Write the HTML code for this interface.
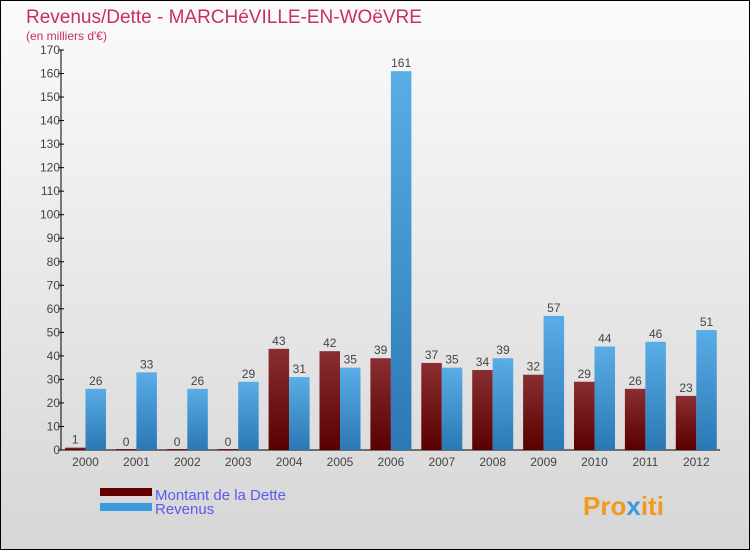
<!DOCTYPE html>
<html><head><meta charset="utf-8"><style>
body{margin:0;}
#c{width:750px;height:550px;position:relative;font-family:"Liberation Sans",sans-serif;}
</style></head><body>
<div id="c">
<svg id="s" width="750" height="550" xmlns="http://www.w3.org/2000/svg">
<defs>
<linearGradient id="bg" x1="0" y1="0" x2="0" y2="1"><stop offset="0" stop-color="#fbfbfb"/><stop offset="1" stop-color="#d6d6d6"/></linearGradient>
<linearGradient id="gd" x1="0" y1="0" x2="0" y2="1"><stop offset="0" stop-color="#8a2e31"/><stop offset="1" stop-color="#5a0000"/></linearGradient>
<linearGradient id="gr" x1="0" y1="0" x2="0" y2="1"><stop offset="0" stop-color="#5aade6"/><stop offset="1" stop-color="#2a78b4"/></linearGradient>
</defs>
<rect x="0.5" y="0.5" width="749" height="549" fill="url(#bg)" stroke="#000"/>
<text x="26" y="23" font-size="19" fill="#c8305f">Revenus/Dette - MARCHéVILLE-EN-WOëVRE</text>
<text x="26" y="40" font-size="12" fill="#c8305f">(en milliers d'€)</text>
<g id="axes"></g><g id="bars"></g>
<rect x="100" y="488" width="52" height="8" fill="#600000"/>
<text x="155" y="500" font-size="15" fill="#5a5aee">Montant de la Dette</text>
<rect x="100" y="503" width="52" height="8" fill="#3a9ae0"/>
<text x="155" y="514" font-size="15" fill="#5a5aee">Revenus</text>
<text x="583" y="515" font-size="26" font-weight="bold" fill="#f39a1e">Pro<tspan fill="#3a9ae0">x</tspan>iti</text>
</svg></div>
<script>
const years=["2000","2001","2002","2003","2004","2005","2006","2007","2008","2009","2010","2011","2012"];
const dette=[1,0,0,0,43,42,39,37,34,32,29,26,23];
const revenus=[26,33,26,29,31,35,161,35,39,57,44,46,51];
const ticks=[0,10,20,30,40,50,60,70,80,90,100,110,120,130,140,150,160,170];
const NS="http://www.w3.org/2000/svg";
const y0=450,ppu=400/170,x0=61;
const y=v=>y0-v*ppu, xc=i=>85.5+i*50.9;
function mk(t,a,p){const e=document.createElementNS(NS,t);for(const k in a)e.setAttribute(k,a[k]);p.appendChild(e);return e;}
const ax=document.getElementById('axes'),bs=document.getElementById('bars');
const yl=mk('line',{x1:x0,y1:y0,x2:x0,y2:y(170),stroke:'#000'},ax);


const xl=mk('line',{x1:x0,y1:y0,x2:720,y2:y0,stroke:'#000'},ax);


ticks.forEach(t=>{
 mk('line',{x1:x0-3,y1:y(t),x2:x0+3,y2:y(t),stroke:'#000'},ax);
 const tx=mk('text',{x:x0-1,y:y(t)+4,'font-size':12,'text-anchor':'end',fill:'#444'},ax);
 tx.textContent=t;
 
 
});
years.forEach((yr,i)=>{
 const c=xc(i);
 const tx=mk('text',{x:c,y:y0+16,'font-size':12,'text-anchor':'middle',fill:'#444'},ax);
 tx.textContent=yr;
 
 
 [[dette[i],c-20.5,'url(#gd)','bar-dette'],[revenus[i],c,'url(#gr)','bar-revenus']].forEach(([v,x,f,n])=>{
  const r=mk('rect',{x:x,y:y(v)-(v===0?1:0),width:20.5,height:Math.max(v*ppu,1),fill:f},bs);
  
  
  const l=mk('text',{x:x+10.25,y:y(v)-4,'font-size':12,'text-anchor':'middle',fill:'#444'},bs);
  l.textContent=v;
  
  
 });
});
</script>
</body></html>
